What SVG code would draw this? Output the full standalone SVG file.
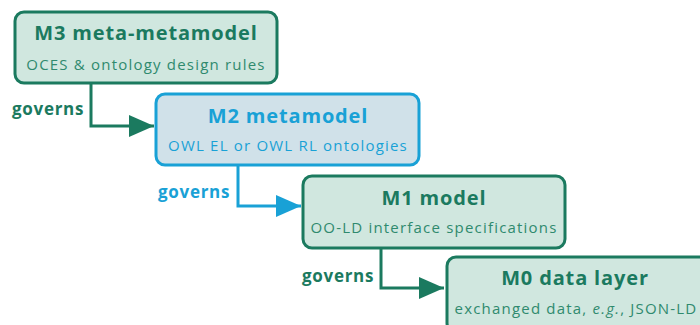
<svg xmlns="http://www.w3.org/2000/svg" width="700" height="325" viewBox="0 0 700 325">
<style>
.g rect{fill:#d0e7df;stroke:#1b7a5f;stroke-width:3}
.b rect{fill:#d0e1e9;stroke:#19a1d6;stroke-width:3}
.t{font-family:"Open Sans",Lato,sans-serif;font-weight:bold;font-size:20px;letter-spacing:0.85px;text-anchor:middle}
.s{font-family:"Open Sans",Lato,sans-serif;font-size:15px;letter-spacing:1.2px;text-anchor:middle}
.l{font-family:"Open Sans",Lato,sans-serif;font-weight:bold;font-size:17px;letter-spacing:0.7px}
.g .t{fill:#1b7a5f}.g .s{fill:#2f8a6e}
.b .t,.b .s{fill:#19a1d6}
.cg{stroke:#1b7a5f;stroke-width:3;fill:none}
.cb{stroke:#19a1d6;stroke-width:3;fill:none}
</style>
<defs>
<marker id="ag" markerUnits="userSpaceOnUse" markerWidth="26" markerHeight="22" refX="25" refY="11" orient="auto"><path d="M0,0 L25,11 L0,22 Z" fill="#1b7a5f"/></marker>
<marker id="ab" markerUnits="userSpaceOnUse" markerWidth="26" markerHeight="22" refX="25" refY="11" orient="auto"><path d="M0,0 L25,11 L0,22 Z" fill="#19a1d6"/></marker>
</defs>
<g id="connectors">
<path class="cg" d="M91,83 V126 H154" marker-end="url(#ag)"/>
<text class="l" x="12" y="115" fill="#1b7a5f">governs</text>
<path class="cb" d="M238,165 V206 H301" marker-end="url(#ab)"/>
<text class="l" x="158" y="198" fill="#19a1d6">governs</text>
<path class="cg" d="M381,248 V288 H444" marker-end="url(#ag)"/>
<text class="l" x="302" y="282" fill="#1b7a5f">governs</text>
</g>
<g id="m3" class="g">
<rect x="15" y="12" width="262" height="71" rx="9"/>
<text class="t" x="146" y="40">M3 meta-metamodel</text>
<text class="s" x="146" y="70">OCES &amp; ontology design rules</text>
</g>
<g id="m2" class="b">
<rect x="156" y="94" width="263" height="71" rx="9"/>
<text class="t" x="288" y="123">M2 metamodel</text>
<text class="s" x="288" y="151">OWL EL or OWL RL ontologies</text>
</g>
<g id="m1" class="g">
<rect x="303" y="176" width="262" height="72" rx="9"/>
<text class="t" x="434" y="205">M1 model</text>
<text class="s" x="434" y="233">OO-LD interface specifications</text>
</g>
<g id="m0" class="g">
<rect x="447" y="257" width="265" height="75" rx="9"/>
<text class="t" x="575" y="285">M0 data layer</text>
<text class="s" x="576" y="314">exchanged data, <tspan font-style="italic">e.g.</tspan>, JSON-LD</text>
</g>
</svg>
